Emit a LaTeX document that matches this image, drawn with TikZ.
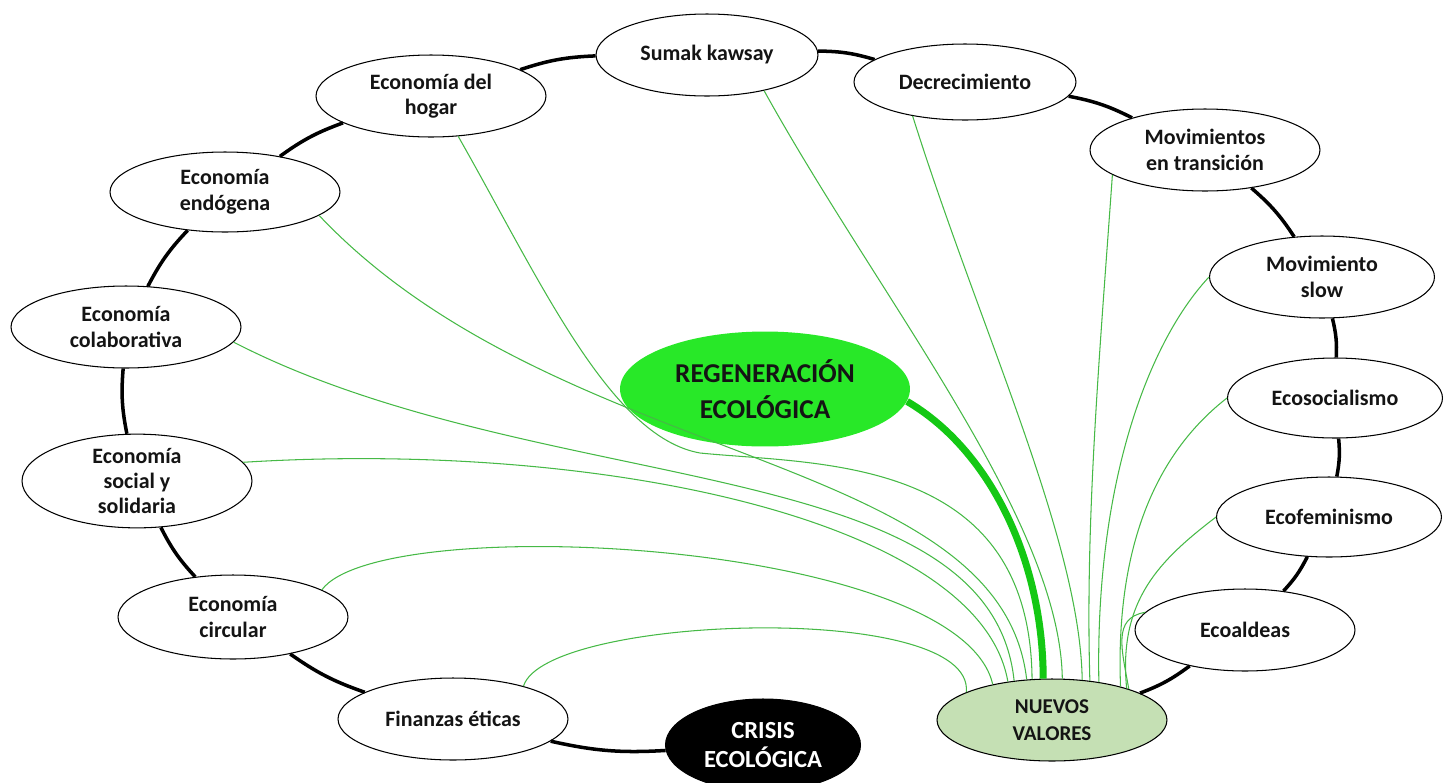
\documentclass[tikz,border=0pt]{standalone}
\usepackage{fontspec}
\setmainfont{Carlito}
\usetikzlibrary{shapes.geometric}

\definecolor{regengreen}{RGB}{40,232,40}
\definecolor{thickgreen}{RGB}{20,200,20}
\definecolor{linkgreen}{RGB}{70,185,70}
\definecolor{valoresfill}{RGB}{197,224,180}
\definecolor{inkblack}{RGB}{20,20,20}

\tikzset{
  idea/.style={ellipse, draw=black, line width=0.6pt, fill=white, inner sep=0pt,
    minimum width=4.6cm, minimum height=1.64cm, align=center, text=inkblack,
    font=\fontsize{12.5}{14.5}\selectfont\bfseries},
  ring/.style={line width=2pt, black},
  link/.style={linkgreen, line width=0.6pt},
}

\begin{document}
\begin{tikzpicture}[x=0.02cm, y=-0.02cm]
    \useasboundingbox (0,0) rectangle (1448,782);
    % the ring of ideas
    \node[idea, minimum width=4.44cm] (sumak) at (707,55) {Sumak kawsay};
    \node[idea, minimum width=4.44cm, minimum height=1.52cm] (decrec) at (965,82) {Decrecimiento};
    \node[idea] (transicion) at (1205,150) {Movimientos\\en transición};
    \node[idea, minimum width=4.5cm] (slow) at (1322,277) {Movimiento\\slow};
    \node[idea, minimum width=4.3cm, minimum height=1.6cm] (ecosoc) at (1335,398) {Ecosocialismo};
    \node[idea, minimum width=4.5cm, minimum height=1.6cm] (ecofem) at (1329,517) {Ecofeminismo};
    \node[idea, minimum width=4.4cm] (ecoaldeas) at (1245,630) {Ecoaldeas};
    \node[idea, fill=valoresfill, font=\fontsize{12}{15.5}\selectfont\bfseries] (valores) at (1052,720) {NUEVOS\\VALORES};
    \node[idea, fill=black, text=white, minimum width=3.9cm, minimum height=1.84cm,
      font=\fontsize{14}{17}\selectfont\bfseries] (crisis) at (763,745) {CRISIS\\ECOLÓGICA};
    \node[idea] (finanzas) at (453,719) {Finanzas éticas};
    \node[idea, minimum height=1.68cm] (circular) at (233,617) {Economía\\circular};
    \node[idea, minimum height=1.68cm] (social) at (137,481) {Economía\\social y\\solidaria};
    \node[idea] (colab) at (126,327) {Economía\\colaborativa};
    \node[idea, minimum height=1.6cm] (endogena) at (225,192) {Economía\\endógena};
    \node[idea] (hogar) at (431,96) {Economía del\\hogar};
    % the centre
    \node[idea, draw=none, fill=regengreen, minimum width=5.8cm, minimum height=2.3cm,
      font=\fontsize{15.5}{20.5}\selectfont\bfseries] (regen) at (765,389) {REGENERACIÓN\\ECOLÓGICA};

    % black ring between neighbours
    \draw[ring] (crisis) to[bend left=8] (finanzas);
    \draw[ring] (finanzas) to[bend left=8] (circular);
    \draw[ring] (circular) to[bend left=8] (social);
    \draw[ring] (social) to[bend left=8] (colab);
    \draw[ring] (colab) to[bend left=8] (endogena);
    \draw[ring] (endogena) to[bend left=8] (hogar);
    \draw[ring] (hogar) to[bend left=8] (sumak);
    \draw[ring] (sumak) to[bend left=8] (decrec);
    \draw[ring] (decrec) to[bend left=8] (transicion);
    \draw[ring] (transicion) to[bend left=8] (slow);
    \draw[ring] (slow) to[bend left=8] (ecosoc);
    \draw[ring] (ecosoc) to[bend left=8] (ecofem);
    \draw[ring] (ecofem) to[bend left=8] (ecoaldeas);
    \draw[ring] (ecoaldeas) to[bend left=8] (valores);

    % green links into the new values
    \draw[link] (finanzas.25) .. controls (545,615) and (975,600) .. (valores.162);
    \draw[link] (circular.17) .. controls (380,510) and (960,540) .. (valores.149);
    \draw[link] (social.10) .. controls (600,440) and (980,520) .. (valores.139);
    \draw[link] (colab.-8) .. controls (540,500) and (990,450) .. (valores.134);
    \draw[link] (endogena.-14) .. controls (560,470) and (1000,450) .. (valores.122);
    \draw[link] (hogar.-56) .. controls (540,280) and (610,437) .. (700,453)
      .. controls (820,465) and (1030,455) .. (valores.116);
    \draw[link] (sumak.-32) .. controls (880,300) and (1060,520) .. (valores.76);
    \draw[link] (decrec.-147) .. controls (980,330) and (1080,540) .. (valores.53);
    \draw[link] (transicion.-165) .. controls (1100,350) and (1085,520) .. (valores.46);
    \draw[link] (slow.west) .. controls (1150,340) and (1095,480) .. (valores.39);
    \draw[link] (ecosoc.west) .. controls (1160,450) and (1115,540) .. (valores.26);
    \draw[link] (ecofem.west) .. controls (1160,560) and (1118,600) .. (valores.23);
    \draw[link] (ecoaldeas.170) .. controls (1112,618) and (1122,650) .. (valores.22);
    % thick link from the centre
    \draw[thickgreen, line width=4pt] (regen.-5) .. controls (990,450) and (1043,560) .. (valores.102);
\end{tikzpicture}
\end{document}
